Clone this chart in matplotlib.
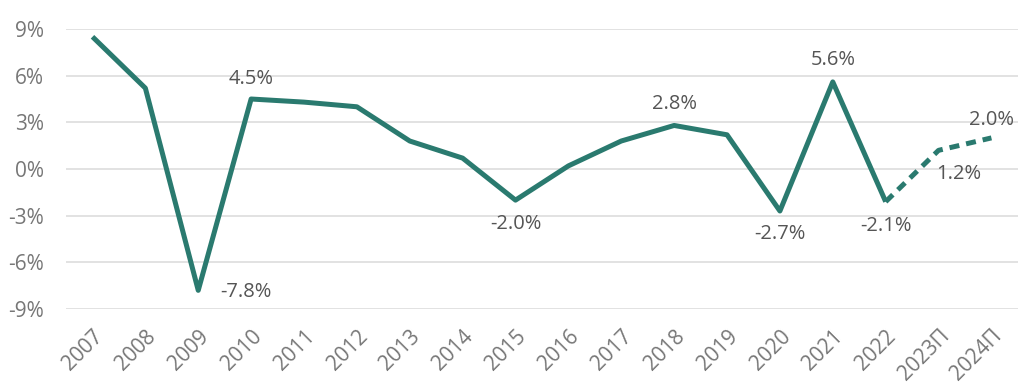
import matplotlib
matplotlib.use("Agg")
import matplotlib.pyplot as plt

years = ["2007", "2008", "2009", "2010", "2011", "2012", "2013", "2014", "2015",
         "2016", "2017", "2018", "2019", "2020", "2021", "2022", "2023П", "2024П"]
growth = [8.5, 5.2, -7.8, 4.5, 4.3, 4.0, 1.8, 0.7, -2.0,
          0.2, 1.8, 2.8, 2.2, -2.7, 5.6, -2.1, 1.2, 2.0]
n_actual = 16  # through 2022
yticks = [-9, -6, -3, 0, 3, 6, 9]

# labels: (index, text, dx, dy)
labels = {2: ("-7.8%", 0.9, -0.1), 3: ("4.5%", 0.0, 1.3), 8: ("-2.0%", 0.0, -1.55),
          11: ("2.8%", 0.0, 1.35), 13: ("-2.7%", 0.0, -1.45), 14: ("5.6%", 0.0, 1.4),
          15: ("-2.1%", 0.0, -1.55), 16: ("1.2%", 0.38, -1.5), 17: ("2.0%", 0.0, 1.15)}

plt.rcParams['font.family'] = ['Open Sans', 'DejaVu Sans']
color = "#2a7a6f"

fig = plt.figure(figsize=(10.24, 3.92), dpi=100)
ax = fig.add_axes([0.0645, 0.2117, 0.9295, 0.7143])

x = list(range(len(years)))
ax.plot(x[:n_actual], growth[:n_actual], color=color, lw=3.6, solid_capstyle='butt',
        solid_joinstyle='round', zorder=3)
ax.plot(x[n_actual - 1:], growth[n_actual - 1:], color=color, lw=3.6,
        linestyle=(0, (2.0, 1.4)), zorder=3)

for i, (t, dx, dy) in labels.items():
    ax.text(x[i] + dx, growth[i] + dy, t, ha='center', va='center',
            fontsize=14.5, color="#555555")

ax.set_xlim(-0.5, len(years) - 0.5)
ax.set_ylim(-9, 9)
ax.set_yticks(yticks)
ax.set_yticklabels([f"{v}%" for v in yticks], fontsize=15, color="#777777")
ax.set_xticks(x)
ax.set_xticklabels(years, rotation=45, ha='right', rotation_mode='anchor',
                   fontsize=15, color="#777777")
ax.tick_params(axis='y', length=0, pad=16)
ax.tick_params(axis='x', length=0, pad=12)
ax.yaxis.grid(True, color="#dddddd", lw=1.2)
ax.set_axisbelow(True)
for s in ax.spines.values():
    s.set_visible(False)

fig.savefig("out.png", dpi=100)
